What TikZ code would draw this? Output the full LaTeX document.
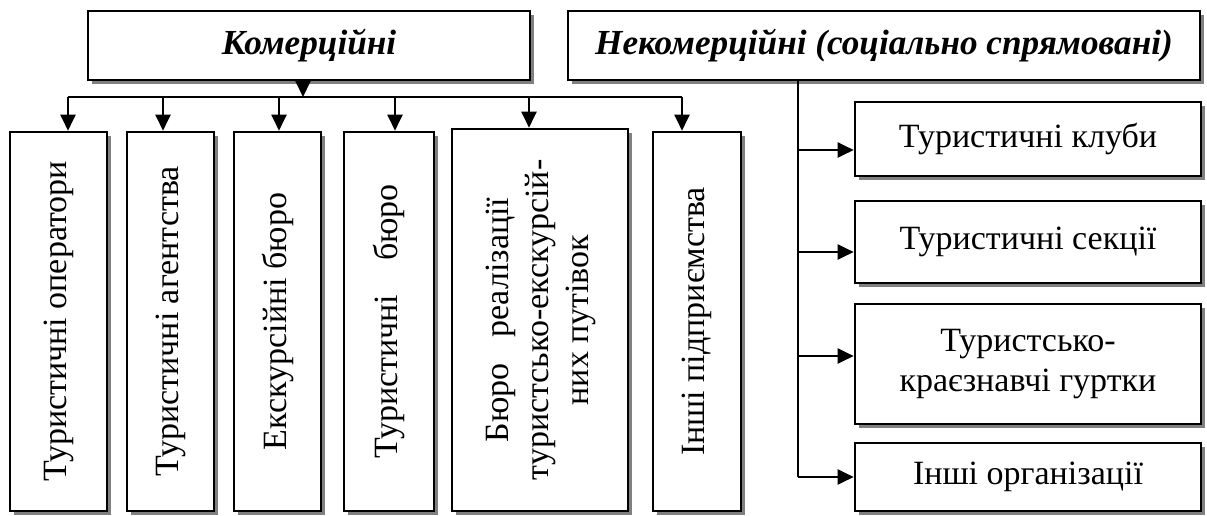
\documentclass[tikz,border=0pt]{standalone}
\usepackage{fontspec}
\setmainfont{Liberation Serif}
\usepackage{graphicx}
\usetikzlibrary{arrows.meta, positioning, calc, shadows}

\begin{document}
\begin{tikzpicture}[>={Triangle[length=8pt,width=7.5pt]}, x=0.5pt, y=-0.5pt,
    box/.style={draw, line width=1.3pt, fill=white, inner sep=2pt,
        font=\fontsize{17}{20}\selectfont,
        drop shadow={shadow xshift=2.2pt, shadow yshift=-2.2pt, fill=black!50, opacity=1}},
    head/.style={box, minimum height=34.5pt, font=\fontsize{17.6}{20}\selectfont\bfseries\itshape},
    vbox/.style={box, minimum height=189.5pt},
    hbox/.style={box, minimum width=173pt, align=center},
    conn/.style={line width=1pt}]

    \useasboundingbox (0,0) rectangle (1207,515);

    % Headers
    \node[head, minimum width=221pt] (kom) at (309,45.5) {Комерційні};
    \node[head, minimum width=316pt] (nekom) at (884,45.5) {Некомерційні (соціально спрямовані)};

    % Commercial (vertical boxes)
    \node[vbox, minimum width=48.5pt] (v1) at (58.5,321.5) {\rotatebox{90}{Туристичні оператори}};
    \node[vbox, minimum width=43.5pt] (v2) at (170.5,321.5) {\rotatebox{90}{Туристичні агентства}};
    \node[vbox, minimum width=43.5pt] (v3) at (277.5,321.5) {\rotatebox{90}{Екскурсійні бюро}};
    \node[vbox, minimum width=45pt] (v4) at (389,321.5) {\rotatebox{90}{Туристичні\quad{}бюро}};
    \node[vbox, minimum width=88pt, minimum height=191pt] (v5) at (540,320) {\rotatebox{90}{%
        \begin{tabular}{@{}c@{}}Бюро\hspace{13pt}реалізації\\
        туристсько-екскурсій-\\ них путівок\end{tabular}}};
    \node[vbox, minimum width=44pt] (v6) at (697,321.5) {\rotatebox{90}{Інші підприємства}};

    % Non-commercial (horizontal boxes)
    \node[hbox, minimum height=37pt] (r1) at (1028,139) {Туристичні клуби};
    \node[hbox, minimum height=41pt] (r2) at (1028,242) {Туристичні секції};
    \node[hbox, minimum height=60pt] (r3) at (1028,364) {Туристсько-\\краєзнавчі гуртки};
    \node[hbox, minimum height=34pt] (r4) at (1028,477) {Інші організації};

    % Bus of commercial branch
    \coordinate (kb) at (303,97);
    \foreach \i/\x in {1/68, 2/163, 3/279, 4/395, 5/529, 6/682}{
        \coordinate (b\i) at (\x,97);
    }
    \draw[conn, ->] (kom.south -| kb) -- (kb);
    \draw[conn] (b1) -- (b6);
    \foreach \i in {1,...,6}{
        \draw[conn, ->] (b\i) -- (b\i |- v\i.north);
    }

    % Trunk of non-commercial branch
    \foreach \i/\y in {1/150, 2/252, 3/356, 4/477}{
        \coordinate (t\i) at (798,\y);
    }
    \draw[conn] (nekom.south -| t4) -- (t4);
    \foreach \i in {1,...,4}{
        \draw[conn, ->] (t\i) -- (t\i -| r\i.west);
    }

\end{tikzpicture}
\end{document}
